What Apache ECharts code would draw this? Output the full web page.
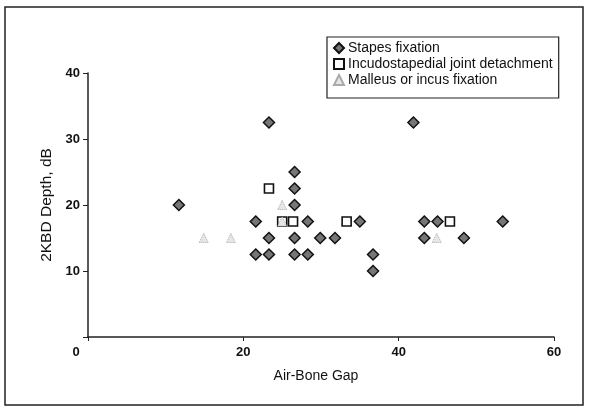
<!DOCTYPE html>
<html>
<head>
<meta charset="utf-8">
<script src="https://cdn.jsdelivr.net/npm/echarts@6/dist/echarts.min.js"></script>
<style>
  html, body { margin: 0; padding: 0; background: #fff; }
  #chart { width: 589px; height: 413px; }
</style>
</head>
<body>
<div id="chart"></div>
<script>
// values: [air-bone gap, 2KBD depth]
var stapes = [
  [11.7, 20], [21.6, 17.5], [21.6, 12.5], [23.3, 12.5], [23.3, 15], [23.3, 32.5],
  [26.6, 25], [26.6, 22.5], [26.6, 20], [28.3, 17.5], [26.6, 15], [26.6, 12.5],
  [28.3, 12.5], [29.9, 15], [31.8, 15], [35, 17.5], [36.7, 12.5], [36.7, 10],
  [41.9, 32.5], [43.3, 17.5], [45, 17.5], [43.3, 15], [48.4, 15], [53.4, 17.5]
]
var incudo = [[23.3, 22.5], [25, 17.5], [26.4, 17.5], [33.3, 17.5], [46.6, 17.5]]
var malleus = [[14.9, 15], [18.4, 15], [25, 20], [25, 17.5], [44.9, 15]]

var seriesNames = ['Stapes fixation', 'Incudostapedial joint detachment', 'Malleus or incus fixation']
var xName = 'Air-Bone Gap'
var yName = '2KBD Depth, dB'

var font = 'Liberation Sans'
var ink = '#111'

var chart = echarts.init(document.getElementById('chart'))

chart.setOption({
  animation: false,
  backgroundColor: '#fff',
  textStyle: { fontFamily: font, color: ink },
  grid: { left: 88, right: 35, top: 73, bottom: 76 },
  graphic: [{
    type: 'rect',
    shape: { x: 5, y: 7, width: 578, height: 398 },
    style: { fill: 'none', stroke: '#222', lineWidth: 1.5 },
    silent: true
  }],
  legend: {
    orient: 'vertical',
    left: 327,
    top: 37,
    padding: [4, 6, 11, 6],
    itemGap: 2,
    itemWidth: 10,
    itemHeight: 10,
    borderColor: '#222',
    borderWidth: 1.2,
    backgroundColor: '#fff',
    textStyle: { fontFamily: font, fontSize: 14, color: ink, padding: [0, 0, 0, -1] },
    data: seriesNames
  },
  xAxis: {
    type: 'value',
    min: 0, max: 60, interval: 20,
    name: xName,
    nameLocation: 'middle',
    nameGap: 32,
    nameTextStyle: { fontFamily: font, fontSize: 14, color: ink, padding: [0, 10, 0, 0] },
    splitLine: { show: false },
    axisLine: { show: true, lineStyle: { color: '#222', width: 1.5 } },
    axisTick: { show: true, length: 4, inside: false, lineStyle: { color: '#222' } },
    axisLabel: {
      fontSize: 13, color: ink, margin: 9, fontWeight: 'bold',
      formatter: function (v) { return v === 0 ? '{z|0}' : String(v) },
      rich: { z: { fontSize: 13, fontWeight: 'bold', color: ink, padding: [0, 24, 0, 0] } }
    }
  },
  yAxis: {
    type: 'value',
    min: 0, max: 40, interval: 10,
    name: yName,
    nameLocation: 'middle',
    nameGap: 33,
    nameTextStyle: { fontFamily: font, fontSize: 15.5, color: ink },
    splitLine: { show: false },
    axisLine: { show: true, lineStyle: { color: '#222', width: 1.5 } },
    axisTick: { show: true, length: 5, lineStyle: { color: '#222' } },
    axisLabel: {
      fontSize: 13, color: ink, margin: 8, fontWeight: 'bold',
      formatter: function (v) { return v === 0 ? '' : String(v) }
    }
  },
  series: [
    {
      name: seriesNames[0],
      type: 'scatter',
      symbol: 'diamond',
      symbolSize: 11,
      itemStyle: { color: '#767676', borderColor: '#111', borderWidth: 1.5, opacity: 1 },
      data: stapes
    },
    {
      name: seriesNames[1],
      type: 'scatter',
      symbol: 'rect',
      symbolSize: 9,
      itemStyle: { color: '#fff', borderColor: '#111', borderWidth: 1.6, opacity: 1 },
      data: incudo
    },
    {
      name: seriesNames[2],
      type: 'scatter',
      symbol: 'triangle',
      symbolSize: 9,
      itemStyle: { color: '#e6e6e6', borderColor: '#aaa', borderWidth: 1, borderType: 'dotted', opacity: 1 },
      data: malleus
    }
  ]
})
</script>
</body>
</html>
